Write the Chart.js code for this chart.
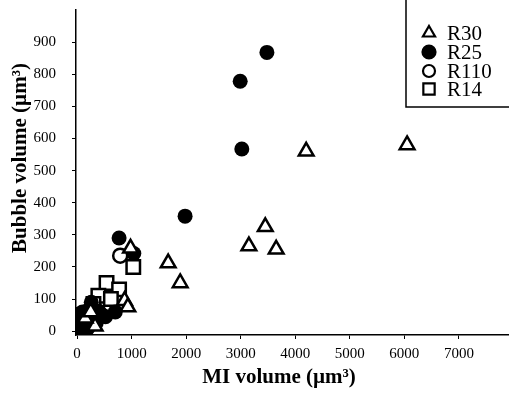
<!DOCTYPE html>
<html>
<head>
<meta charset="utf-8">
<script src="https://cdn.jsdelivr.net/npm/chart.js@4.4.1/dist/chart.umd.min.js"></script>
<style>
  html, body { margin: 0; padding: 0; background: #fff; }
  #wrap { width: 509px; height: 395px; position: relative; }
</style>
</head>
<body>
<div id="wrap"><canvas id="chart"></canvas></div>
<script>
// values (MI volume, bubble volume) in µm³
const seriesNames = ['R30', 'R25', 'R110', 'R14'];

const r30 = [
    [4200, 560], [6050, 580], [3450, 325], [3150, 265], [3650, 255],
    [1670, 212], [1890, 150], [980, 258], [870, 95], [930, 75],
    [330, 15], [150, 40], [250, 60]
];
const r25 = [
    [3480, 868], [2990, 778], [3020, 567], [1980, 358], [770, 290],
    [1040, 242], [260, 90], [400, 62], [700, 60], [520, 45],
    [450, 52], [250, 30], [150, 20], [80, 10], [200, 65], [120, 40],
    [60, 30], [350, 25], [100, 60], [200, 10], [40, 5]
];
const r110 = [[790, 235], [300, 60], [100, 20]];
const r14 = [
    [1030, 200], [540, 150], [770, 130], [390, 110], [620, 100],
    [300, 85], [20, 35], [30, 5], [100, 50], [180, 30], [60, 15]
];

const xTicks = [0, 1000, 2000, 3000, 4000, 5000, 6000, 7000];
const yTicks = [0, 100, 200, 300, 400, 500, 600, 700, 800, 900];

const xTitle = 'MI volume (µm³)';
const yTitle = 'Bubble volume (µm³)';

const serif = "'Liberation Serif', 'Times New Roman', serif";

function toPoints(arr) {
    return arr.map(p => ({ x: p[0], y: p[1] }));
}

const styles = [
    { pointStyle: 'triangle', pointRadius: 8.5, backgroundColor: '#fff', borderWidth: 2.5 },
    { pointStyle: 'circle', pointRadius: 7.5, backgroundColor: '#000', borderWidth: 0 },
    { pointStyle: 'circle', pointRadius: 7, backgroundColor: '#fff', borderWidth: 2.5 },
    { pointStyle: 'rect', pointRadius: 9.5, backgroundColor: '#fff', borderWidth: 2.5 }
];

const allData = [r30, r25, r110, r14];

// keep the plot box where the scan has it: no extra room for tick labels
function fixSize(prop, size) {
    return scale => {
        scale[prop] = size;
        scale.paddingTop = 0;
        scale.paddingBottom = 0;
        scale.paddingLeft = 0;
        scale.paddingRight = 0;
    };
}

// axis titles sit a bit off-centre in the scan, so draw them by hand
const axisTitles = {
    id: 'axisTitles',
    afterDraw(chart) {
        const ctx = chart.ctx;
        ctx.save();
        ctx.fillStyle = '#000';
        ctx.font = 'bold 21px ' + serif;
        ctx.textAlign = 'center';
        ctx.textBaseline = 'middle';
        ctx.fillText(xTitle, 279, 378);
        ctx.translate(21, 158);
        ctx.rotate(-Math.PI / 2);
        ctx.fillText(yTitle, 0, 0);
        ctx.restore();
    }
};

// boxed legend in the top right corner, like the scanned figure
const boxLegend = {
    id: 'boxLegend',
    afterDraw(chart) {
        const ctx = chart.ctx;
        ctx.save();
        ctx.strokeStyle = '#000';
        ctx.lineWidth = 1.5;
        ctx.beginPath();
        ctx.moveTo(406, 0);
        ctx.lineTo(406, 107);
        ctx.lineTo(509, 107);
        ctx.stroke();

        const rows = [33, 52, 71, 89];
        const sizes = [7, 6.5, 6, 8];
        seriesNames.forEach((name, i) => {
            const s = styles[i];
            ctx.fillStyle = s.backgroundColor;
            ctx.strokeStyle = '#000';
            ctx.lineWidth = i === 1 ? 0 : 2.2;
            Chart.helpers.drawPoint(ctx, {
                pointStyle: s.pointStyle,
                radius: sizes[i],
                rotation: 0,
                borderWidth: ctx.lineWidth
            }, 429, rows[i]);
            if (i === 1) { ctx.fillStyle = '#000'; ctx.fill(); }
            ctx.fillStyle = '#000';
            ctx.font = '21px ' + serif;
            ctx.textBaseline = 'middle';
            ctx.textAlign = 'left';
            ctx.fillText(name, 447, rows[i] + 1);
        });
        ctx.restore();
    }
};

new Chart(document.getElementById('chart'), {
    type: 'scatter',
    data: {
        datasets: allData.map((arr, i) => ({
            label: seriesNames[i],
            data: toPoints(arr),
            pointStyle: styles[i].pointStyle,
            pointRadius: styles[i].pointRadius,
            pointHoverRadius: styles[i].pointRadius,
            backgroundColor: styles[i].backgroundColor,
            borderColor: '#000',
            borderWidth: styles[i].borderWidth
        }))
    },
    options: {
        responsive: true,
        maintainAspectRatio: false,
        animation: false,
        layout: { autoPadding: false, padding: { top: 10, right: 1, left: 0, bottom: 0 } },
        plugins: {
            legend: { display: false },
            tooltip: { enabled: false }
        },
        scales: {
            x: {
                type: 'linear',
                min: -20,
                max: 7900,
                afterFit: fixSize('height', 60),
                afterBuildTicks: scale => { scale.ticks = xTicks.map(v => ({ value: v })); },
                grid: { drawOnChartArea: false, drawTicks: true, tickLength: 4, tickColor: '#000' },
                border: { display: true, color: '#000', width: 1.5 },
                ticks: {
                    color: '#000',
                    padding: 6,
                    maxRotation: 0,
                    callback: v => String(v),
                    font: { family: serif, size: 15 }
                },
                title: { display: false }
            },
            y: {
                type: 'linear',
                min: -12,
                max: 1000,
                afterFit: fixSize('width', 76),
                afterBuildTicks: scale => { scale.ticks = yTicks.map(v => ({ value: v })); },
                grid: { drawOnChartArea: false, drawTicks: true, tickLength: 4, tickColor: '#000' },
                border: { display: true, color: '#000', width: 1.5 },
                ticks: {
                    color: '#000',
                    padding: 16,
                    callback: v => String(v),
                    font: { family: serif, size: 15 }
                },
                title: { display: false }
            }
        }
    },
    plugins: [axisTitles, boxLegend]
});
</script>
</body>
</html>
